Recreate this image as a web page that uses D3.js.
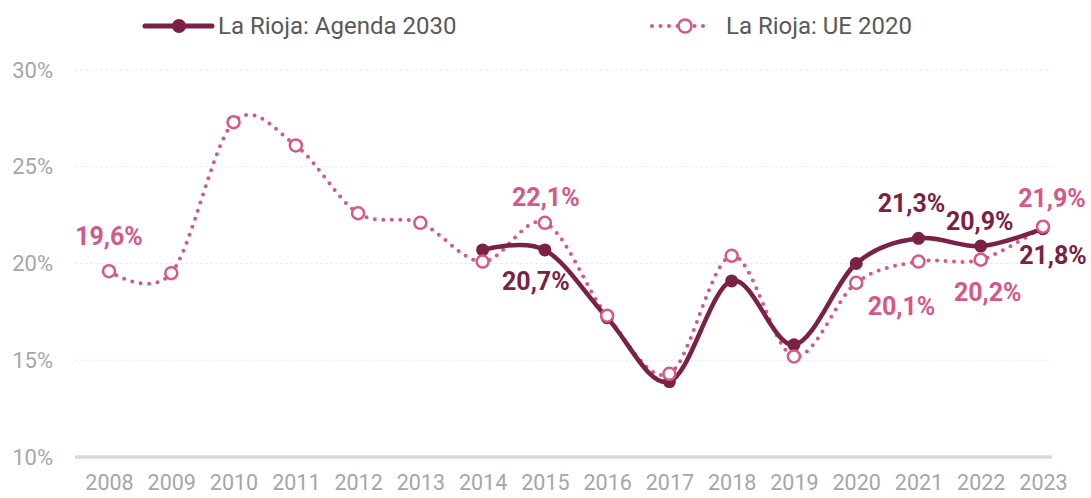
<!doctype html>
<html>
<head>
<meta charset="utf-8">
<script src="https://d3js.org/d3.v7.min.js"></script>
<style>
  body { margin: 0; background: #fff; }
  svg { font-family: Roboto, "Open Sans", sans-serif; display: block; }
</style>
</head>
<body>
<svg width="1091" height="498"></svg>
<script>
// data
var years = ["2008","2009","2010","2011","2012","2013","2014","2015",
             "2016","2017","2018","2019","2020","2021","2022","2023"];
var ue2020 = [19.6, 19.5, 27.3, 26.1, 22.6, 22.1, 20.1, 22.1,
              17.3, 14.3, 20.4, 15.2, 19.0, 20.1, 20.2, 21.9];
var agenda2030 = [null, null, null, null, null, null, 20.7, 20.7,
                  17.2, 13.9, 19.1, 15.8, 20.0, 21.3, 20.9, 21.8];
var yTicks = [10, 15, 20, 25, 30];
var seriesNames = ["La Rioja: Agenda 2030", "La Rioja: UE 2020"];

// which values get a label, and where it sits around the point
var labelsUE = [
  {year: "2008", dx: 0, dy: -26},
  {year: "2015", dx: 1, dy: -17},
  {year: "2021", dx: -17, dy: 53},
  {year: "2022", dx: 7, dy: 41},
  {year: "2023", dx: 9, dy: -20}
];
var labelsAgenda = [
  {year: "2015", dx: -9, dy: 40},
  {year: "2021", dx: -7, dy: -26},
  {year: "2022", dx: -1, dy: -16},
  {year: "2023", dx: 10, dy: 35}
];

var maroon = "#7b2046", pink = "#d6578a";
var svg = d3.select("svg");

var x = d3.scalePoint().domain(years).range([109, 1043]);
var y = d3.scaleLinear().domain([10, 30]).range([457, 70]);
var fmt = function(v) { return v.toFixed(1).replace(".", ",") + "%"; };

// grid
svg.append("g").selectAll("line")
  .data(yTicks.filter(function(d) { return d > 10; }))
  .enter().append("line")
  .attr("x1", 75).attr("x2", 1052)
  .attr("y1", function(d) { return y(d); })
  .attr("y2", function(d) { return y(d); })
  .style("stroke", "#ebebeb")
  .style("stroke-width", 1)
  .style("stroke-dasharray", "3 2");

svg.append("line")
  .attr("x1", 75).attr("x2", 1052)
  .attr("y1", y(10)).attr("y2", y(10))
  .style("stroke", "#d9d9d9")
  .style("stroke-width", 3.5);

// y axis
var yAxis = svg.append("g")
  .attr("transform", "translate(53,0)")
  .call(d3.axisLeft(y).tickValues(yTicks).tickSize(0).tickPadding(0)
    .tickFormat(function(d) { return d + "%"; }));
yAxis.select(".domain").remove();
yAxis.selectAll("text")
  .style("font-family", "Roboto, sans-serif")
  .style("font-size", "22px")
  .style("fill", "#a6a6a6");

// x axis
var xAxis = svg.append("g")
  .attr("transform", "translate(0," + 465 + ")")
  .call(d3.axisBottom(x).tickSize(0).tickPadding(0));
xAxis.select(".domain").remove();
xAxis.selectAll("text")
  .attr("dy", "1.15em")
  .style("font-family", "Roboto, sans-serif")
  .style("font-size", "21.5px")
  .style("fill", "#a6a6a6");

// lines
var ptsUE = years.map(function(yr, i) { return [yr, ue2020[i]]; });
var ptsAg = years.map(function(yr, i) { return [yr, agenda2030[i]]; })
  .filter(function(d) { return d[1] != null; });

var line = d3.line()
  .x(function(d) { return x(d[0]); })
  .y(function(d) { return y(d[1]); })
  .curve(d3.curveCatmullRom.alpha(0));

svg.append("path")
  .datum(ptsUE)
  .attr("d", line)
  .style("fill", "none")
  .style("stroke", pink)
  .style("stroke-width", 4)
  .style("stroke-linecap", "round")
  .style("stroke-dasharray", "0 8.5");

svg.append("path")
  .datum(ptsAg)
  .attr("d", line)
  .style("fill", "none")
  .style("stroke", maroon)
  .style("stroke-width", 4.5);

svg.append("g").selectAll("circle")
  .data(ptsAg).enter().append("circle")
  .attr("cx", function(d) { return x(d[0]); })
  .attr("cy", function(d) { return y(d[1]); })
  .attr("r", 6.5)
  .style("fill", maroon);

svg.append("g").selectAll("circle")
  .data(ptsUE).enter().append("circle")
  .attr("cx", function(d) { return x(d[0]); })
  .attr("cy", function(d) { return y(d[1]); })
  .attr("r", 6)
  .style("fill", "#fff")
  .style("stroke", pink)
  .style("stroke-width", 2.5);

// data labels
function addLabels(list, values, color) {
  svg.append("g").selectAll("text")
    .data(list).enter().append("text")
    .attr("x", function(d) { return x(d.year) + d.dx; })
    .attr("y", function(d) { return y(values[years.indexOf(d.year)]) + d.dy; })
    .attr("text-anchor", "middle")
    .style("font-size", "25px")
    .style("font-weight", "bold")
    .style("fill", color)
    .text(function(d) { return fmt(values[years.indexOf(d.year)]); });
}
addLabels(labelsUE, ue2020, pink);
addLabels(labelsAgenda, agenda2030, maroon);

// legend
var lg1 = svg.append("g");
lg1.append("line").attr("x1", 145).attr("x2", 212).attr("y1", 26).attr("y2", 26)
  .style("stroke", maroon).style("stroke-width", 5).style("stroke-linecap", "round");
lg1.append("circle").attr("cx", 179).attr("cy", 26).attr("r", 7).style("fill", maroon);
lg1.append("text").attr("x", 218).attr("y", 34)
  .style("font-size", "24px").style("fill", "#595959").text(seriesNames[0]);

var lg2 = svg.append("g");
lg2.append("line").attr("x1", 652).attr("x2", 711).attr("y1", 26).attr("y2", 26)
  .style("stroke", pink).style("stroke-width", 4).style("stroke-linecap", "round")
  .style("stroke-dasharray", "0 8.5");
lg2.append("circle").attr("cx", 685).attr("cy", 26).attr("r", 6.5)
  .style("fill", "#fff").style("stroke", pink).style("stroke-width", 2.5);
lg2.append("text").attr("x", 726).attr("y", 34)
  .style("font-size", "24px").style("fill", "#595959").text(seriesNames[1]);
</script>
</body>
</html>
